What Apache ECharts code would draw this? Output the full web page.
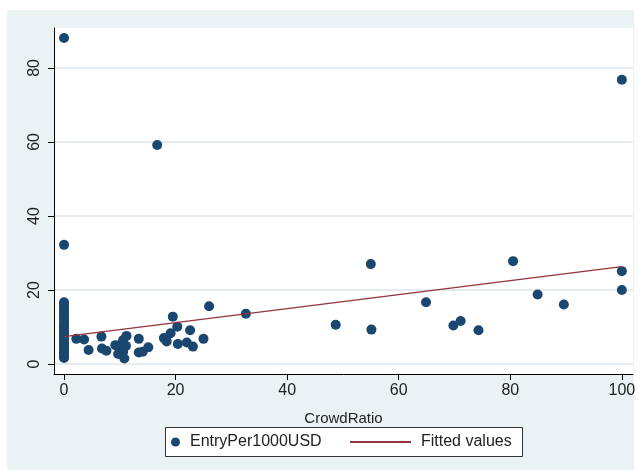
<!DOCTYPE html>
<html>
<head>
<meta charset="utf-8">
<script src="https://cdn.jsdelivr.net/npm/echarts@6/dist/echarts.min.js"></script>
<style>
    html, body { margin: 0; padding: 0; background: #fff; }
    #bg {
        position: absolute;
        left: 7px;
        top: 10px;
        width: 627px;
        height: 460px;
        background: #eaf2f3;
    }
    #chart {
        position: absolute;
        left: 7px;
        top: 10px;
        width: 631px;
        height: 460px;
    }
</style>
</head>
<body>
<div id="bg"></div>
<div id="chart"></div>
<script>
// scatter points: CrowdRatio (x) vs EntryPer1000USD (y)
const crowdRatio = [
    0, 0, 0, 0, 0, 0, 0, 0, 0, 0, 0, 0, 0, 0, 0, 0, 0, 0, 0, 0, 0, 0, 0, 0, 0,
    2.2, 3.6, 4.4, 6.7, 6.8, 7.6, 9.2, 10.0, 10.6, 11.2, 9.7, 10.8, 11.1, 10.6,
    13.4, 13.4, 14.1, 15.1, 16.7, 18.3, 17.9, 18.4, 19.1, 19.5, 20.3, 20.4,
    22.0, 22.6, 23.1, 25.0, 26.0, 32.6, 48.7, 55.0, 55.1, 64.9, 69.8, 71.1,
    74.3, 80.5, 84.9, 89.6, 100, 100, 100
];
const entryPer1000 = [
    88.1, 32.2, 1.6, 2.1, 2.7, 3.2, 3.8, 4.4, 5.0, 5.6, 6.2, 6.9, 7.6, 8.3, 9.0,
    9.7, 10.4, 11.2, 12.0, 12.8, 13.6, 14.4, 15.2, 16.0, 16.7,
    6.8, 6.6, 3.8, 7.4, 4.2, 3.6, 5.1, 5.1, 6.5, 7.6, 2.7, 1.5, 4.9, 3.3,
    6.8, 3.1, 3.3, 4.5, 59.2, 6.5, 7.0, 6.1, 8.3, 12.8, 10.1, 5.4,
    5.8, 9.1, 4.7, 6.8, 15.6, 13.6, 10.6, 27.0, 9.3, 16.7, 10.4, 11.6,
    9.1, 27.8, 18.8, 16.1, 76.8, 25.1, 20.0
];
// fitted line end points
const fittedX = [0, 100];
const fittedY = [7.4, 26.3];
// axis ticks
const xTicks = [0, 20, 40, 60, 80, 100];
const yTicks = [0, 20, 40, 60, 80];

const fontFamily = "Liberation Sans, Arial, sans-serif";
const navy = "#1a476f";
const maroon = "#90353b";
const gridColor = "#e4ecef";

let chart = echarts.init(document.getElementById("chart"));

let option = {
    animation: false,
    backgroundColor: "transparent",
    textStyle: { fontFamily: fontFamily },
    grid: {
        left: 47,
        right: 5,
        top: 18,
        bottom: 96,
        outerBoundsMode: "none",
        show: true,
        backgroundColor: "#fff",
        borderWidth: 0,
    },
    xAxis: {
        type: "value",
        min: -1.8,
        max: 102,
        name: "CrowdRatio",
        nameLocation: "middle",
        nameGap: 37,
        nameTextStyle: { color: "#222", fontSize: 15, fontFamily: fontFamily },
        axisLine: { show: true, onZero: false, lineStyle: { color: "#000", width: 1 } },
        axisTick: { show: true, length: 6, customValues: xTicks, lineStyle: { color: "#000" } },
        axisLabel: { customValues: xTicks, color: "#222", fontSize: 16, margin: 9 },
        splitLine: { show: false },
    },
    yAxis: {
        type: "value",
        min: -2.7,
        max: 90.8,
        axisLine: { show: true, onZero: false, lineStyle: { color: "#000", width: 1 } },
        axisTick: { show: true, length: 6, customValues: yTicks, lineStyle: { color: "#000" } },
        axisLabel: { customValues: yTicks, rotate: 90, color: "#222", fontSize: 16, margin: 11 },
        splitLine: { show: true, lineStyle: { color: gridColor, width: 2 } },
    },
    legend: [
        {
            left: 164,
            top: 424,
            padding: 0,
            icon: "circle",
            itemWidth: 9,
            itemHeight: 9,
            textStyle: { color: "#222", fontSize: 16, padding: [0, 0, 0, 5] },
            data: ["EntryPer1000USD"],
        },
        {
            left: 343,
            top: 424,
            padding: 0,
            icon: "rect",
            itemWidth: 61,
            itemHeight: 2,
            textStyle: { color: "#222", fontSize: 16, padding: [0, 0, 0, 5] },
            data: ["Fitted values"],
        },
    ],
    graphic: [
        {
            type: "rect",
            left: 158,
            top: 417,
            z: -1,
            shape: { width: 357, height: 29 },
            style: { fill: "#fff", stroke: "#333", lineWidth: 1 },
        },
    ],
    series: [
        {
            name: "EntryPer1000USD",
            type: "scatter",
            symbolSize: 10,
            itemStyle: { color: navy, opacity: 1 },
            data: crowdRatio.map((x, i) => [x, entryPer1000[i]]),
            z: 3,
        },
        {
            name: "Fitted values",
            type: "line",
            showSymbol: false,
            lineStyle: { color: maroon, width: 1.3 },
            itemStyle: { color: maroon },
            data: fittedX.map((x, i) => [x, fittedY[i]]),
            z: 4,
        },
    ],
};

chart.setOption(option);
</script>
</body>
</html>
